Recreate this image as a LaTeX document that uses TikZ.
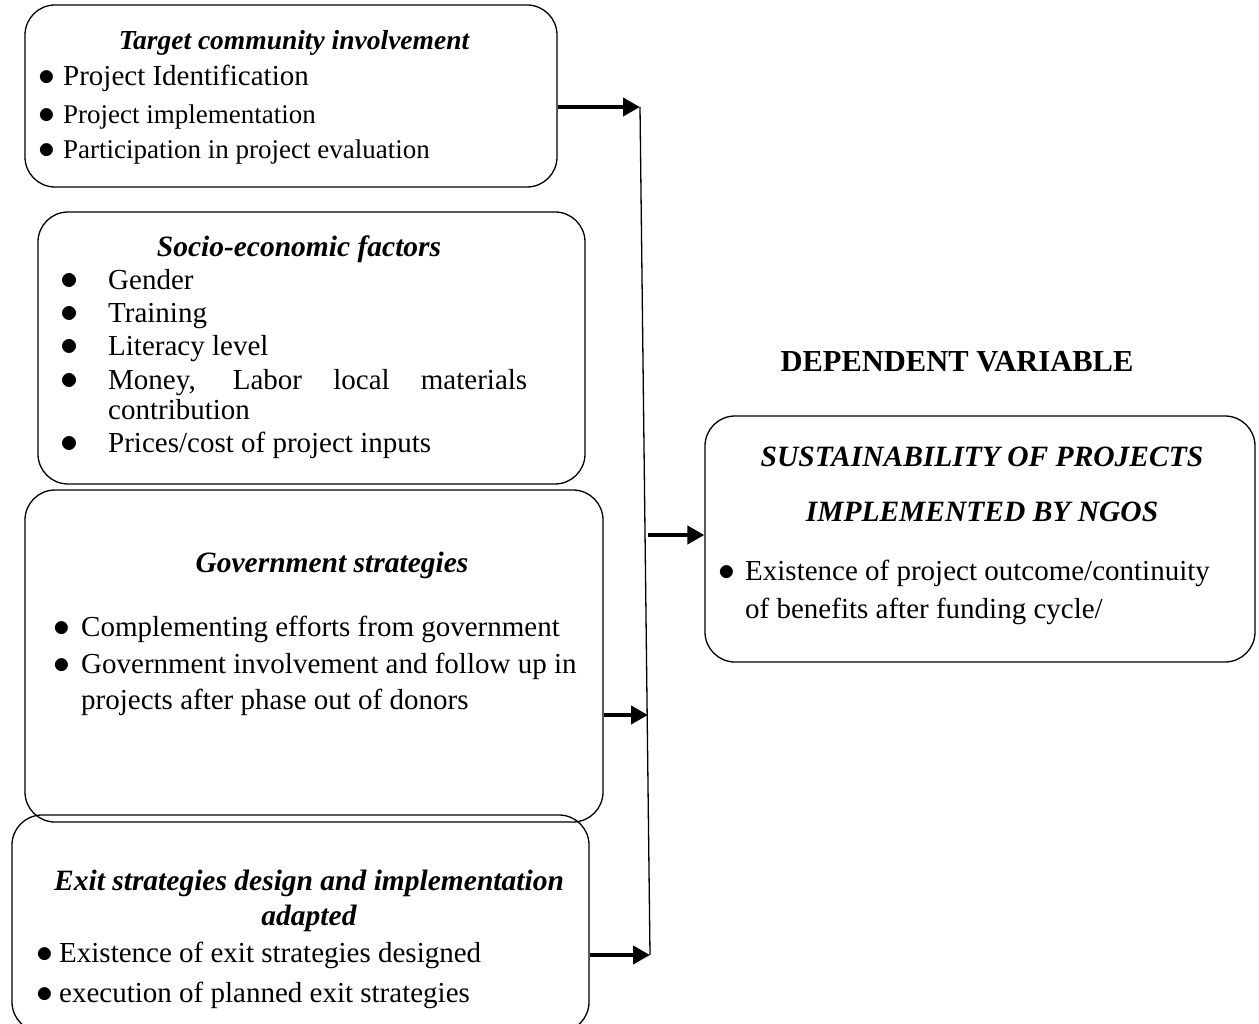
\documentclass[tikz,border=0pt]{standalone}
\usepackage{fontspec}
\setmainfont{Liberation Serif}
\usetikzlibrary{arrows.meta}

\newcommand{\bul}[1][21pt]{\makebox[#1][l]{\scalebox{1.35}{$\bullet$}}}

\tikzset{
  panel/.style={draw, line width=1.3pt, rounded corners=30pt, inner sep=0pt},
  head/.style={anchor=base, inner sep=0pt, font=\fontsize{29.5}{33}\selectfont\bfseries\itshape},
  txt/.style={anchor=base west, inner sep=0pt, font=\fontsize{29}{33}\selectfont},
  small/.style={anchor=base west, inner sep=0pt, font=\fontsize{27}{31}\selectfont},
  flow/.style={line width=4pt, -{Triangle[length=17pt,width=18pt]}},
}

\begin{document}
\begin{tikzpicture}[x=1pt,y=-1pt]
  \useasboundingbox (0,0) rectangle (1259,1024);
  \clip (0,0) rectangle (1259,1024);
  % the five boxes
  \node[panel, minimum width=532, minimum height=182] (tci) at (291,96) {};
  \node[panel, minimum width=547, minimum height=272] (soc) at (311.5,348) {};
  \node[panel, minimum width=578, minimum height=332] (gov) at (314,656) {};
  \node[panel, minimum width=577, minimum height=217] (exs) at (300.5,923.5) {};
  \node[panel, minimum width=550, minimum height=246] (dv) at (980,539) {};
  % target community involvement
  \node[head, font=\fontsize{27.5}{31}\selectfont\bfseries\itshape] (tci-h) at (294,50) {Target community involvement};
  \node[txt] (tci-1) at (38,86) {\bul[25pt]Project Identification};
  \node[small] (tci-2) at (38,124) {\bul[25pt]Project implementation};
  \node[small] (tci-3) at (38,159) {\bul[25pt]Participation in project evaluation};
  % socio-economic factors
  \node[head] (soc-h) at (299,257) {Socio-economic factors};
  \foreach \y [count=\i] in {290,323,356,389,452}
    \node[txt, anchor=base] (soc-b\i) at (70,\y) {\scalebox{1.45}{$\bullet$}};
  \node[txt] (soc-1) at (108,290) {Gender};
  \node[txt] (soc-2) at (108,323) {Training};
  \node[txt] (soc-3) at (108,356) {Literacy level};
  \node[txt] (soc-4) at (108,389) {\makebox[419pt][s]{Money, Labor local materials}};
  \node[txt] (soc-5) at (108,420) {contribution};
  \node[txt] (soc-6) at (108,452) {Prices/cost of project inputs};
  % government strategies
  \node[head] (gov-h) at (332,572) {Government strategies};
  \node[txt] (gov-1) at (53.5,636) {\bul[27.5pt]Complementing efforts from government};
  \node[txt] (gov-2) at (53.5,673) {\bul[27.5pt]Government involvement and follow up in};
  \node[txt] (gov-3) at (81,709) {projects after phase out of donors};
  % exit strategies
  \node[head] (exs-h) at (309,890) {Exit strategies design and implementation};
  \node[head] (exs-h2) at (309,925) {adapted};
  \node[txt] (exs-1) at (36.5,962) {\bul[22.5pt]Existence of exit strategies designed};
  \node[txt] (exs-2) at (36.5,1002) {\bul[22.5pt]execution of planned exit strategies};
  % dependent variable
  \node[head, font=\fontsize{30.5}{34}\selectfont\bfseries] (dv-t) at (957,372) {DEPENDENT VARIABLE};
  \node[head] (dv-h) at (982,466) {SUSTAINABILITY OF PROJECTS};
  \node[head] (dv-h2) at (982,521) {IMPLEMENTED BY NGOS};
  \node[txt] (dv-1) at (718.5,580) {\bul[26.5pt]Existence of project outcome/continuity};
  \node[txt] (dv-2) at (745,618) {of benefits after funding cycle/};
  % connectors
  \coordinate (bt) at (640,107);
  \coordinate (bb) at (650,955);
  \coordinate (jm) at (648,535);
  \coordinate (j3) at (648,715);
  \draw[line width=1.3pt] (bt) -- (bb);
  \draw[flow] (tci.east |- bt) -- (bt);
  \draw[flow] (gov.east |- j3) -- (j3);
  \draw[flow] (exs.east |- bb) -- (bb);
  \draw[flow] (jm) -- (jm -| dv.west);
\end{tikzpicture}
\end{document}
